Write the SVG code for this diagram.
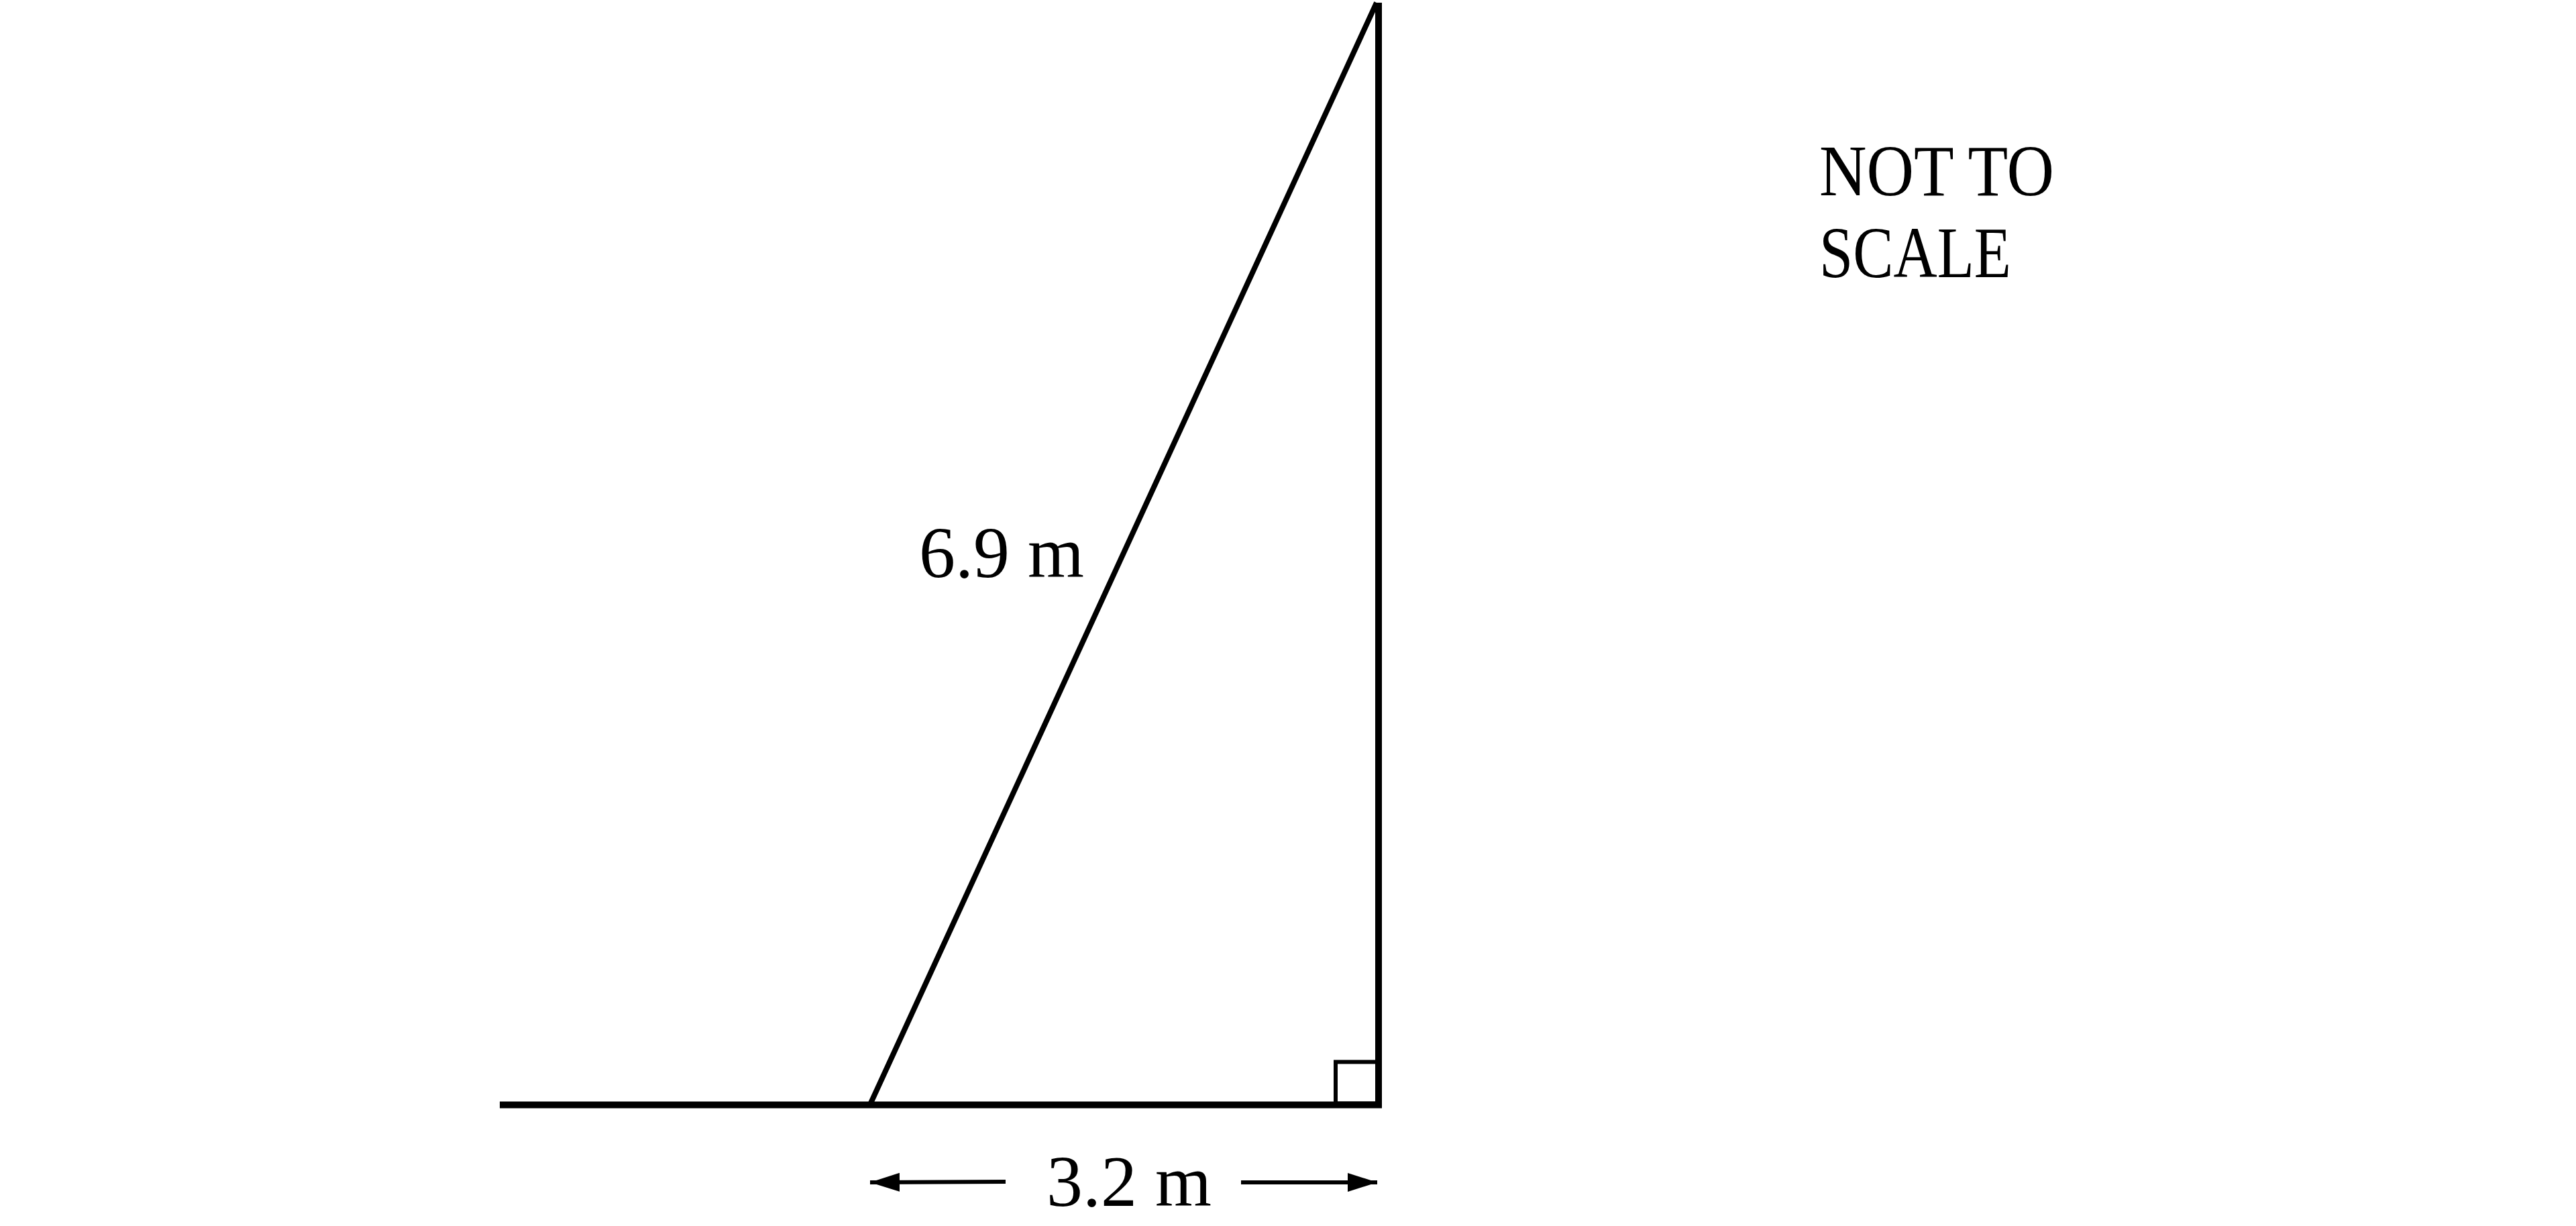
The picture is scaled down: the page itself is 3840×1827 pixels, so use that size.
<svg xmlns="http://www.w3.org/2000/svg" width="3840" height="1827" viewBox="0 0 3840 1827">
<style>
.ln{stroke:#000;fill:none;stroke-linecap:butt}
.lbl{font-family:"Liberation Serif","DejaVu Serif",serif;font-size:108px;fill:#000}
</style>
<defs>
<marker id="ah" markerUnits="userSpaceOnUse" markerWidth="46" markerHeight="28" refX="44" refY="14" orient="auto">
<path d="M0,0 L44,14 L0,28 Z" fill="#000"/>
</marker>
</defs>
<rect width="3840" height="1827" fill="#fff"/>
<g id="figure">
<line class="ln" x1="745" y1="1646.5" x2="2060" y2="1646.5" stroke-width="10"/>
<line class="ln" x1="2055" y1="4" x2="2055" y2="1651" stroke-width="10"/>
<line class="ln" x1="1297" y1="1646" x2="2052" y2="4" stroke-width="8"/>
<rect class="ln" x="1991" y="1582.5" width="62" height="62" stroke-width="6"/>
</g>
<g id="connectors">
<line class="ln" x1="1499" y1="1761" x2="1297" y2="1762" stroke-width="6" marker-end="url(#ah)"/>
<line class="ln" x1="1850" y1="1762" x2="2053" y2="1762" stroke-width="6" marker-end="url(#ah)"/>
</g>
<g id="labels">
<text class="lbl" x="1370" y="860">6.9 m</text>
<text class="lbl" x="1560" y="1797">3.2 m</text>
<text class="lbl" x="2712" y="291" textLength="350" lengthAdjust="spacingAndGlyphs">NOT TO</text>
<text class="lbl" x="2712" y="413" textLength="286" lengthAdjust="spacingAndGlyphs">SCALE</text>
</g>
</svg>
